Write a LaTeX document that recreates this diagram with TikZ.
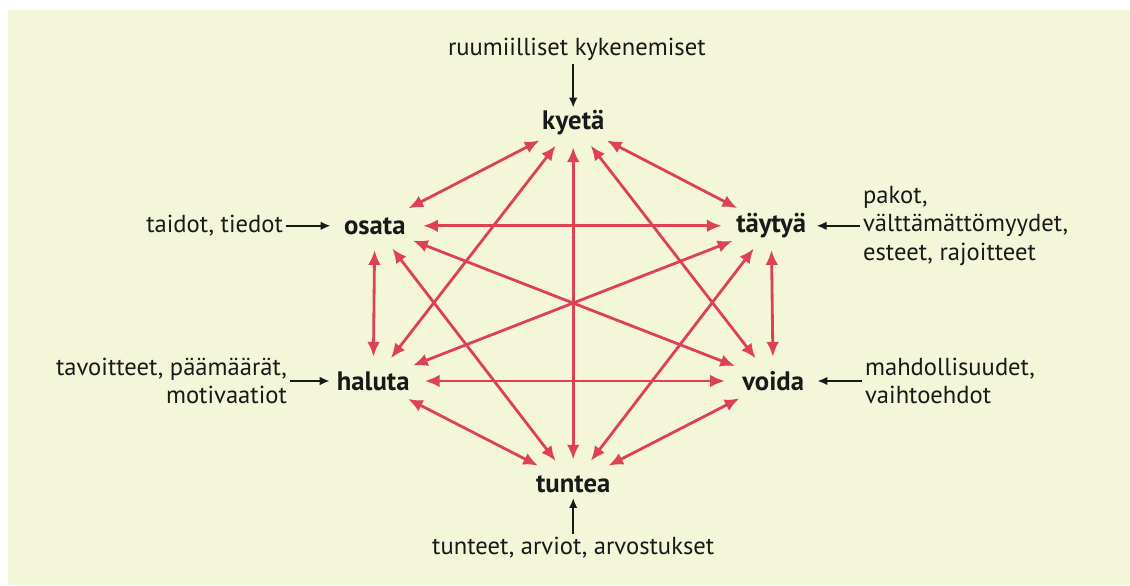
\documentclass[tikz,border=0pt]{standalone}
\usepackage{fontspec}
\setmainfont{PT Sans}
\usepackage{xcolor}
\usetikzlibrary{arrows.meta,shapes.geometric}
\definecolor{paper}{RGB}{244,246,217}
\definecolor{linkred}{RGB}{221,66,82}
\definecolor{ink}{RGB}{25,25,25}
\tikzset{
  verb/.style={ellipse, inner sep=0pt, minimum width=24mm, minimum height=12mm,
    text=ink, font=\fontsize{19}{22}\selectfont\bfseries},
  source/.style={inner sep=2pt, text=ink, font=\fontsize{17.5}{20.3}\selectfont},
  % arrows
  link/.style={{Latex[length=10.5pt,width=9pt]}-{Latex[length=10.5pt,width=9pt]},
    linkred, line width=2pt},
  feed/.style={-{Latex[length=7pt,width=6pt]}, ink, line width=1.2pt},
}

\begin{document}
\begin{tikzpicture}

\useasboundingbox (0,0) rectangle (28.25,14.625);
\fill[paper] (0.2,0) rectangle (28.25,14.375);

% ---------- verbs ----------
\node[verb] (kyeta)  at (14.33,11.55) {kyetä};
\node[verb] (osata)  at (9.37,8.98)   {osata};
\node[verb] (taytya) at (19.28,8.98)  {täytyä};
\node[verb] (haluta) at (9.33,5.10)   {haluta};
\node[verb] (voida)  at (19.33,5.10)  {voida};
\node[verb] (tuntea) at (14.33,2.53)  {tuntea};

% ---------- sources ----------
\node[source] (ruum) at (14.42,13.38) {ruumiilliset kykenemiset};
\node[source, anchor=east] (taidot) at (7.15,8.98) {taidot, tiedot};
\node[source, anchor=west, align=left] (pakot) at (21.5,8.98)
  {pakot,\\välttämättömyydet,\\esteet, rajoitteet};
\node[source, anchor=east, align=right] (tavoit) at (7.25,5.10)
  {tavoitteet, päämäärät,\\motivaatiot};
\node[source, anchor=west, align=left] (mahd) at (21.55,5.10)
  {mahdollisuudet,\\vaihtoehdot};
\node[source] (tunteet) at (14.33,0.93) {tunteet, arviot, arvostukset};

% ---------- every verb with every other ----------
\foreach \a/\b in {kyeta/osata, kyeta/taytya, kyeta/haluta, kyeta/voida, kyeta/tuntea,
                   osata/taytya, osata/haluta, osata/voida, osata/tuntea,
                   taytya/haluta, taytya/voida, taytya/tuntea,
                   haluta/voida, haluta/tuntea, voida/tuntea}{
  \draw[link] (\a) -- (\b);}

% ---------- sources -> verbs ----------
\draw[feed, shorten >=-0.22cm] (ruum.south -| kyeta.north) -- (kyeta.north);
\draw[feed, shorten >=-0.1cm] (taidot.east) -- (osata.west);
\draw[feed, shorten >=-0.1cm] (pakot.west) -- (taytya.east);
\draw[feed, shorten >=-0.2cm] (tavoit.east) -- (haluta.west);
\draw[feed, shorten >=-0.1cm] (mahd.west) -- (voida.east);
\draw[feed, shorten >=-0.25cm] (tunteet.north) -- (tuntea.south);

\end{tikzpicture}
\end{document}
